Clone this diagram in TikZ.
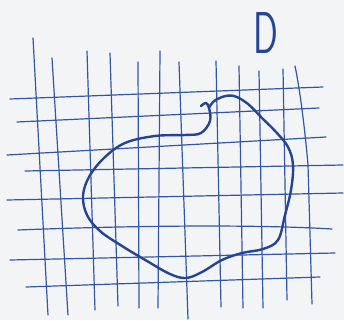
\documentclass[tikz,border=0pt]{standalone}
\usepackage{xcolor}
\usepackage{tikz}
\definecolor{paper}{RGB}{243,244,246}
\definecolor{gridink}{RGB}{50,85,170}
\definecolor{penink}{RGB}{38,68,150}
\tikzset{
  gridline/.style={color=gridink, line width=1.2pt, line cap=round},
  blobline/.style={color=penink, line width=2.4pt, line cap=round, line join=round},
  letter/.style={color=penink, font=\fontsize{59}{59}\selectfont\sffamily,
    xscale=0.62, inner sep=0pt}
}

\begin{document}
\begin{tikzpicture}[x=1pt, y=-1pt]
  \fill[paper] (0,0) rectangle (344,320);
  \useasboundingbox (0,0) rectangle (344,320);
  % vertical lines
  \draw[gridline] (33,38) -- (48,315);
  \draw[gridline] (52,58) -- (68,315);
  \draw[gridline] (87,51) -- (95,310);
  \draw[gridline] (110,53) -- (118,306);
  \draw[gridline] (138,62) -- (139,308);
  \draw[gridline] (160,51) -- (158,308);
  \draw[gridline] (179,62) -- (188,319);
  \draw[gridline] (216,61) -- (221,307);
  \draw[gridline] (239,66) -- (243,308);
  \draw[gridline] (259,71) -- (263,308);
  \draw[gridline] (283,69) -- (287,300);
  \draw[gridline] (295,66) .. controls (300,90) and (305,130) .. (308,165) -- (312,304);
  % horizontal lines
  \draw[gridline] (10,99) -- (323,87);
  \draw[gridline] (17,122) -- (319,108);
  \draw[gridline] (7,155) -- (326,137);
  \draw[gridline] (25,171) -- (343,165);
  \draw[gridline] (7,200) -- (343,193);
  \draw[gridline] (18,230) .. controls (120,226) and (250,224) .. (332,229);
  \draw[gridline] (10,260) -- (335,253);
  \draw[gridline] (26,287) -- (320,277);
  % the region
  \draw[blobline] plot[smooth, tension=0.6] coordinates {
    (201,106) (206,103) (209,108) (210,121) (201,133) (185,135) (155,136)
    (125,143) (104,158) (89,177) (83,196) (87,215) (100,231) (122,246)
    (147,261) (170,274) (186,278) (202,272) (222,260) (242,253) (263,249)
    (278,240) (285,215) (291,190) (293,165) (288,147) (276,132) (262,118)
    (248,104) (234,96) (222,97) (213,102) (209,108)};
  % label
  \node[letter] (dlabel) at (266,33) {D};
\end{tikzpicture}
\end{document}
